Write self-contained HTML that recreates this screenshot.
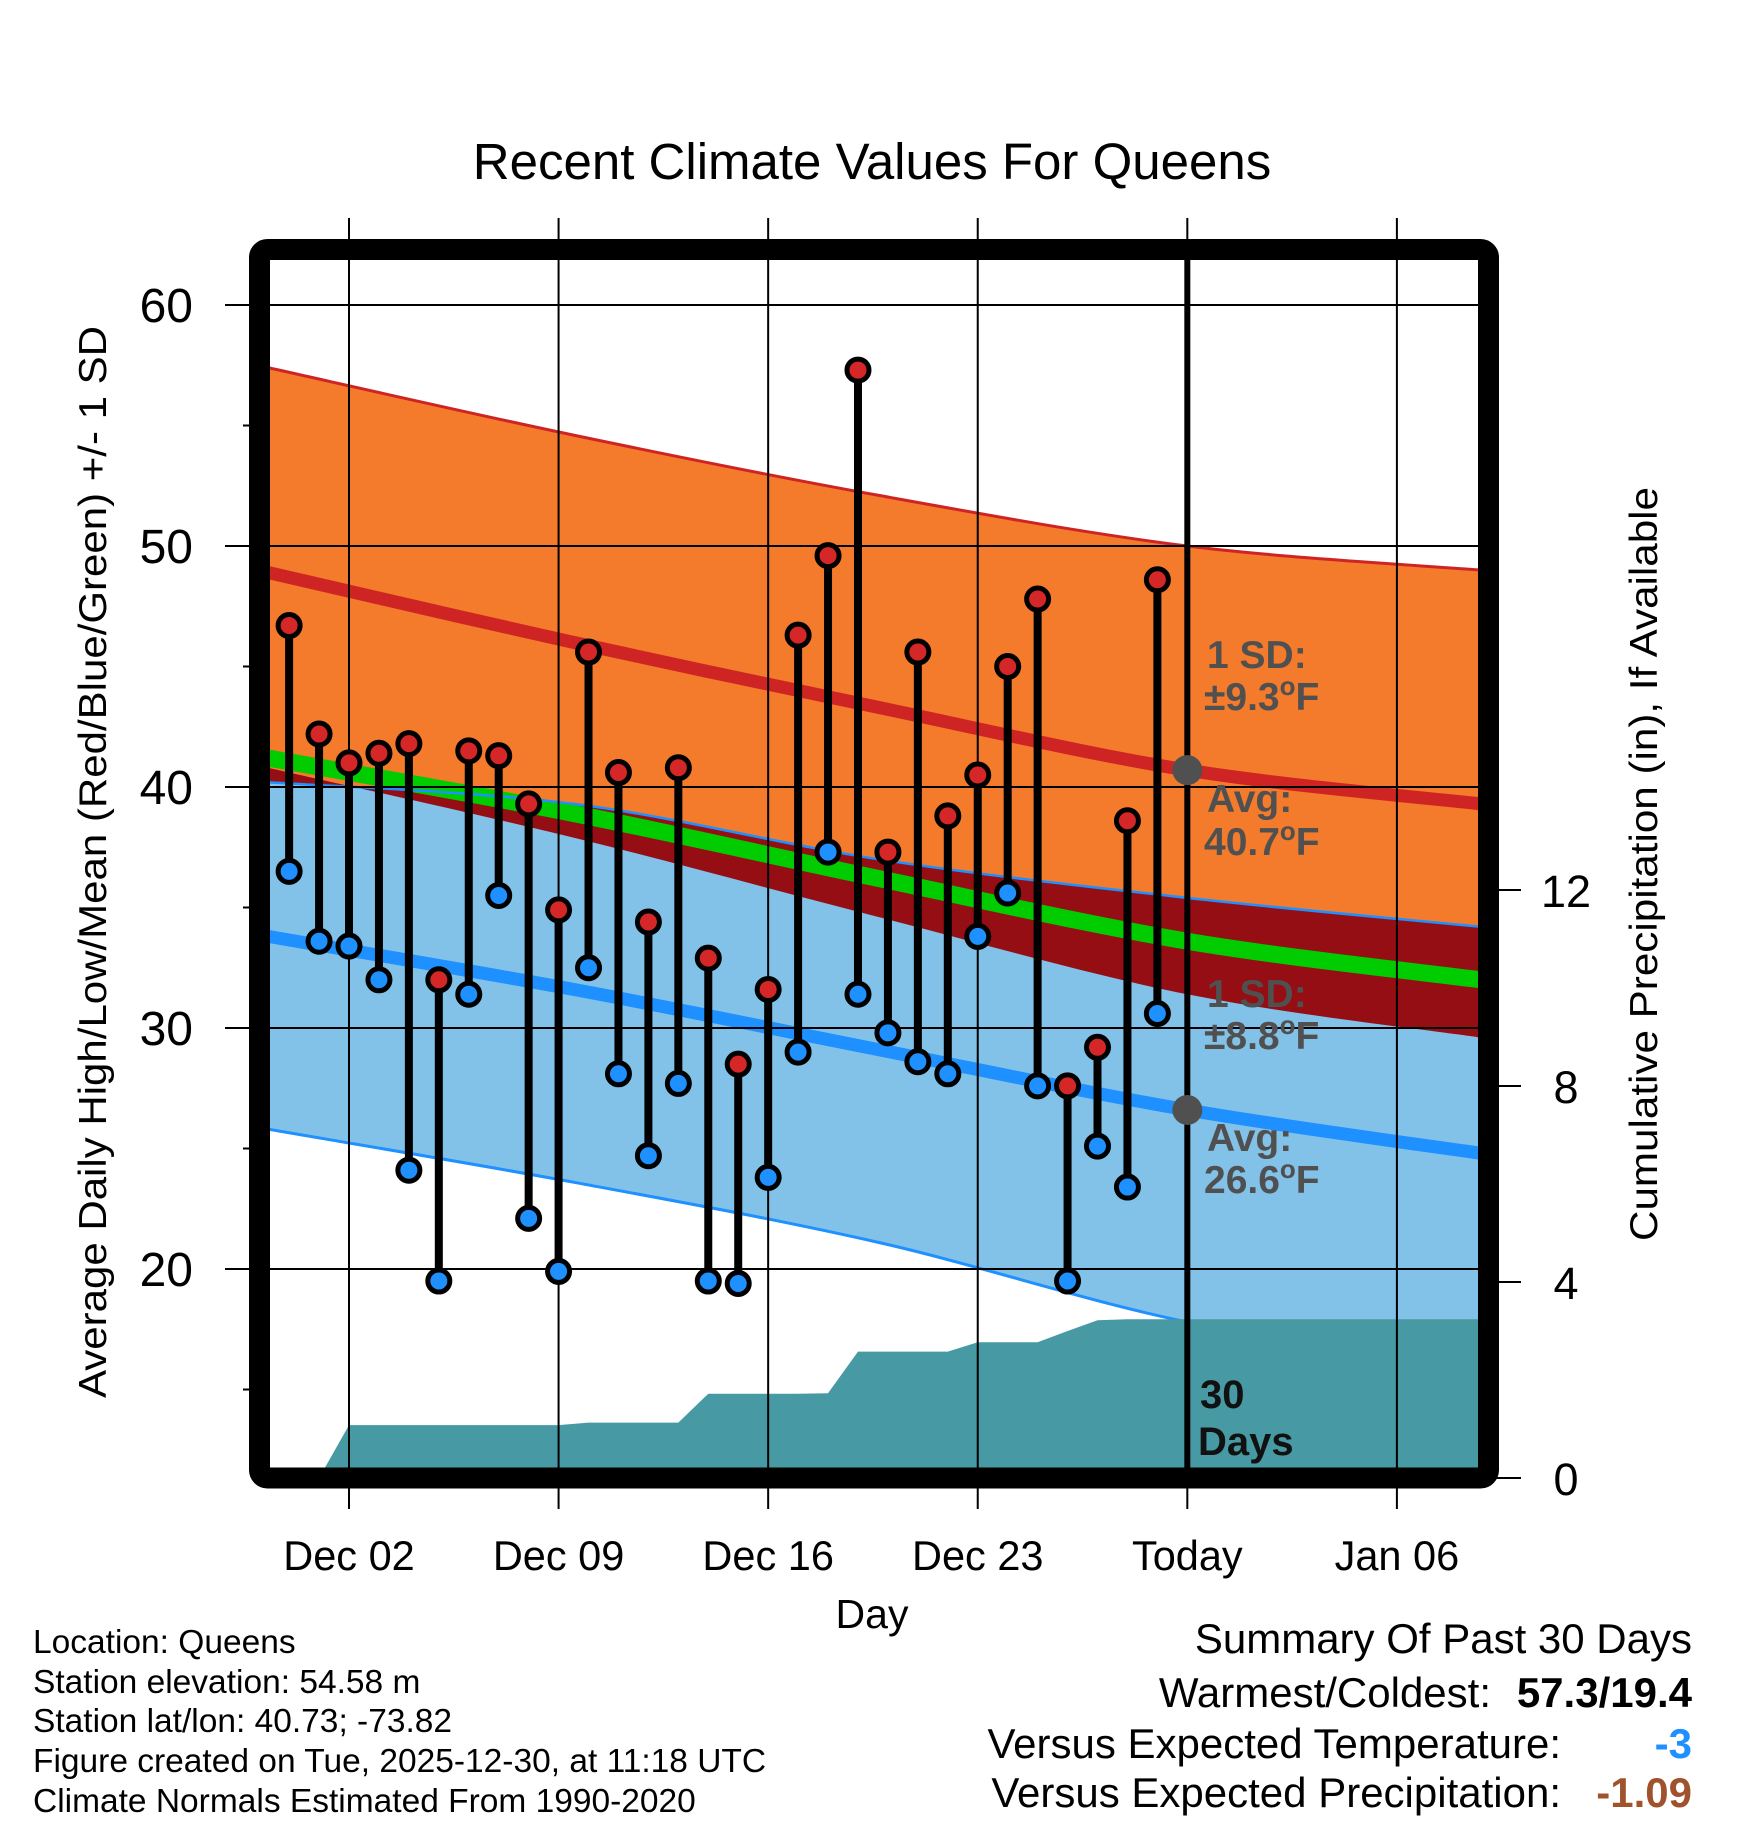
<!DOCTYPE html>
<html><head><meta charset="utf-8"><style>
html,body{margin:0;padding:0;background:#fff;}
svg{display:block;font-family:"Liberation Sans",sans-serif;}
</style></head><body>
<svg id="chart" width="1748" height="1828" viewBox="0 0 1748 1828" xmlns="http://www.w3.org/2000/svg">
<defs><clipPath id="plotclip"><rect x="270" y="260" width="1208" height="1208"/></clipPath></defs>
<rect x="0" y="0" width="1748" height="1828" fill="#fff"/>
<g id="fills" clip-path="url(#plotclip)"></g>
<g id="grid"></g>
<g id="marks" clip-path="url(#plotclip)"></g>
<rect x="259.5" y="249.5" width="1229" height="1228.5" rx="8" fill="none" stroke="#000" stroke-width="21"/>
<g id="axes"></g>
<text x="872" y="179" font-size="51" text-anchor="middle">Recent Climate Values For Queens</text>
<text x="872" y="1628" font-size="41" text-anchor="middle">Day</text>
<text transform="translate(106,862) rotate(-90)" font-size="39" text-anchor="middle" textLength="1072" lengthAdjust="spacingAndGlyphs">Average Daily High/Low/Mean (Red/Blue/Green) +/- 1 SD</text>
<text transform="translate(1657,864) rotate(-90)" font-size="39" text-anchor="middle" textLength="754" lengthAdjust="spacingAndGlyphs">Cumulative Precipitation (in), If Available</text>
<g font-size="33.5">
<text x="33" y="1653">Location: Queens</text>
<text x="33" y="1693">Station elevation: 54.58 m</text>
<text x="33" y="1732">Station lat/lon: 40.73; -73.82</text>
<text x="33" y="1772">Figure created on Tue, 2025-12-30, at 11:18 UTC</text>
<text x="33" y="1812">Climate Normals Estimated From 1990-2020</text>
</g>
<g font-size="42">
<text x="1692" y="1653" text-anchor="end">Summary Of Past 30 Days</text>
<text x="1491" y="1707" text-anchor="end">Warmest/Coldest:</text>
<text x="1692" y="1707" text-anchor="end" font-weight="bold">57.3/19.4</text>
<text x="1561" y="1758" text-anchor="end">Versus Expected Temperature:</text>
<text x="1692" y="1758" text-anchor="end" font-weight="bold" fill="#1e90ff">-3</text>
<text x="1561" y="1807" text-anchor="end">Versus Expected Precipitation:</text>
<text x="1692" y="1807" text-anchor="end" font-weight="bold" fill="#a0522d">-1.09</text>
</g>
<g font-size="39" font-weight="bold" fill="#505050">
<text x="1207" y="668">1 SD:</text>
<text x="1204" y="710">±9.3<tspan dy="-15" font-size="26">o</tspan><tspan dy="15">F</tspan></text>
<text x="1207" y="812">Avg:</text>
<text x="1204" y="855">40.7<tspan dy="-15" font-size="26">o</tspan><tspan dy="15">F</tspan></text>
<text x="1207" y="1007">1 SD:</text>
<text x="1204" y="1049">±8.8<tspan dy="-15" font-size="26">o</tspan><tspan dy="15">F</tspan></text>
<text x="1207" y="1151">Avg:</text>
<text x="1204" y="1193">26.6<tspan dy="-15" font-size="26">o</tspan><tspan dy="15">F</tspan></text>
</g>
<g font-size="40" font-weight="bold" fill="#111">
<text x="1200" y="1408">30</text>
<text x="1198" y="1455">Days</text>
</g>
<script>
const dataDays = [0,1,2,3,4,5,6,7,8,9,10,11,12,13,14,15,16,17,18,19,20,21,22,23,24,25,26,27,28,29];
const highs = [46.7,42.2,41.0,41.4,41.8,32.0,41.5,41.3,39.3,34.9,45.6,40.6,34.4,40.8,32.9,28.5,31.6,46.3,49.6,57.3,37.3,45.6,38.8,40.5,45.0,47.8,27.6,29.2,38.6,48.6];
const lows = [36.5,33.6,33.4,32.0,24.1,19.5,31.4,35.5,22.1,19.9,32.5,28.1,24.7,27.7,19.5,19.4,23.8,29.0,37.3,31.4,29.8,28.6,28.1,33.8,35.6,27.6,19.5,25.1,23.4,30.6];
const normDays = [-0.7,9.5,19.7,30,39.8];
const highPlusSD = [57.4,54.6,52.1,50.0,49.0];
const highAvg = [48.9,46.0,43.3,40.7,39.3];
const highMinusSD = [40.8,37.9,34.6,31.4,29.6];
const meanAvg = [41.2,38.9,36.2,33.6,32.0];
const lowPlusSD = [40.2,39.3,37.0,35.4,34.2];
const lowAvg = [33.8,31.6,29.1,26.6,24.8];
const lowMinusSD = [25.8,23.6,21.1,17.8,16.0];
const precipDays = [1,2,3,4,5,6,7,8,9,10,11,12,13,14,15,16,17,18,19,20,21,22,23,24,25,26,27,28,29,30,39.8];
const precipCum = [0,1.08,1.08,1.08,1.08,1.08,1.08,1.08,1.08,1.13,1.13,1.13,1.13,1.72,1.72,1.72,1.72,1.73,2.58,2.58,2.58,2.58,2.77,2.77,2.77,3.0,3.22,3.24,3.24,3.24,3.24];
const tempTicks = [20,30,40,50,60];
const tempMinorTicks = [15,25,35,45,55];
const precipTicks = [0,4,8,12];
const xTickDays = [2,9,16,23,30,37];
const xTickLabels = ["Dec 02","Dec 09","Dec 16","Dec 23","Today","Jan 06"];
const todayDay = 30;
const todayHighAvg = 40.7;
const todayLowAvg = 26.6;

const NS = "http://www.w3.org/2000/svg";
function xS(d){ return 349 + (d - 2) * 29.94; }
function yT(t){ return 305 + (60 - t) * 24.1; }
function yP(p){ return 1478 - 49 * p; }
function mk(tag, attrs, parent){
  const e = document.createElementNS(NS, tag);
  for (const k in attrs) e.setAttribute(k, attrs[k]);
  parent.appendChild(e);
  return e;
}
function pts(vals){ return normDays.map((d,i)=>[xS(d), yT(vals[i])]); }
function curve(p, start){
  let s = (start ? "M" : "L") + p[0][0].toFixed(1) + "," + p[0][1].toFixed(1);
  for (let i = 0; i < p.length - 1; i++){
    const p0 = p[Math.max(i-1,0)], p1 = p[i], p2 = p[i+1], p3 = p[Math.min(i+2,p.length-1)];
    const c1 = [p1[0] + (p2[0]-p0[0])/6, p1[1] + (p2[1]-p0[1])/6];
    const c2 = [p2[0] - (p3[0]-p1[0])/6, p2[1] - (p3[1]-p1[1])/6];
    s += "C" + c1[0].toFixed(1) + "," + c1[1].toFixed(1) + " " + c2[0].toFixed(1) + "," + c2[1].toFixed(1) + " " + p2[0].toFixed(1) + "," + p2[1].toFixed(1);
  }
  return s;
}
function band(upper, lower){ return curve(pts(upper), true) + curve(pts(lower).reverse(), false) + "Z"; }

const fills = document.getElementById("fills");
let e;
e = mk("path", {d: band(highPlusSD, highMinusSD), fill: "#f47a2c"}, fills);


e = mk("path", {d: band(lowPlusSD, lowMinusSD), fill: "#82c1e8"}, fills);


e = mk("path", {d: band(lowPlusSD, highMinusSD), fill: "#950e14"}, fills);


e = mk("path", {d: curve(pts(meanAvg), true), fill: "none", stroke: "#00cc00", "stroke-width": 17}, fills);


e = mk("path", {d: curve(pts(highPlusSD), true), fill: "none", stroke: "#cf2424", "stroke-width": 3}, fills);


e = mk("path", {d: curve(pts(highAvg), true), fill: "none", stroke: "#cf2424", "stroke-width": 13}, fills);


e = mk("path", {d: curve(pts(lowPlusSD), true), fill: "none", stroke: "#1e90ff", "stroke-width": 2.5}, fills);


e = mk("path", {d: curve(pts(lowMinusSD), true), fill: "none", stroke: "#1e90ff", "stroke-width": 3}, fills);


e = mk("path", {d: curve(pts(lowAvg), true), fill: "none", stroke: "#1e90ff", "stroke-width": 13}, fills);


let pd = "M" + xS(precipDays[0]) + "," + yP(0);
precipDays.forEach((d,i)=>{ pd += "L" + xS(d).toFixed(1) + "," + yP(precipCum[i]).toFixed(1); });
pd += "L" + xS(precipDays[precipDays.length-1]) + "," + yP(0) + "Z";
e = mk("path", {d: pd, fill: "#479aa3"}, fills);



const grid = document.getElementById("grid");
tempTicks.forEach(t=>{
  const l = mk("line", {x1: 225, x2: 1478, y1: yT(t), y2: yT(t), stroke: "#000", "stroke-width": 2}, grid);
  
  
});
tempMinorTicks.forEach(t=>{
  const l = mk("line", {x1: 243, x2: 255, y1: yT(t), y2: yT(t), stroke: "#000", "stroke-width": 2}, grid);
  
  
});
xTickDays.forEach(d=>{
  const l = mk("line", {x1: xS(d), x2: xS(d), y1: 218, y2: 1509, stroke: "#000", "stroke-width": 2}, grid);
  
  
});
precipTicks.forEach(p=>{
  const l = mk("line", {x1: 1490, x2: 1521, y1: yP(p), y2: yP(p), stroke: "#000", "stroke-width": 2}, grid);
  
  
});

const marks = document.getElementById("marks");
e = mk("line", {x1: xS(todayDay), x2: xS(todayDay), y1: 260, y2: 1468, stroke: "#000", "stroke-width": 6}, marks);


dataDays.forEach((d,i)=>{
  const s = mk("line", {x1: xS(d), x2: xS(d), y1: yT(highs[i]), y2: yT(lows[i]), stroke: "#000", "stroke-width": 8}, marks);
  
  
});
dataDays.forEach((d,i)=>{
  const h = mk("circle", {cx: xS(d), cy: yT(highs[i]), r: 11, fill: "#d62728", stroke: "#000", "stroke-width": 5}, marks);
  
  
  const l = mk("circle", {cx: xS(d), cy: yT(lows[i]), r: 11, fill: "#1e90ff", stroke: "#000", "stroke-width": 5}, marks);
  
  
});
e = mk("circle", {cx: xS(todayDay), cy: yT(todayHighAvg), r: 15, fill: "#505050"}, marks);


e = mk("circle", {cx: xS(todayDay), cy: yT(todayLowAvg), r: 15, fill: "#505050"}, marks);



const axes = document.getElementById("axes");
tempTicks.forEach(t=>{
  const tx = mk("text", {x: 193, y: yT(t) + 17, "font-size": 48, "text-anchor": "end"}, axes);
  tx.textContent = t;
  
  
});
precipTicks.forEach(p=>{
  const tx = mk("text", {x: 1566, y: yP(p) + 17, "font-size": 45, "text-anchor": "middle"}, axes);
  tx.textContent = p;
  
  
});
xTickDays.forEach((d,i)=>{
  const tx = mk("text", {x: xS(d), y: 1570, "font-size": 41.5, "text-anchor": "middle"}, axes);
  tx.textContent = xTickLabels[i];
  
  
});
</script>
</svg>
</body></html>
